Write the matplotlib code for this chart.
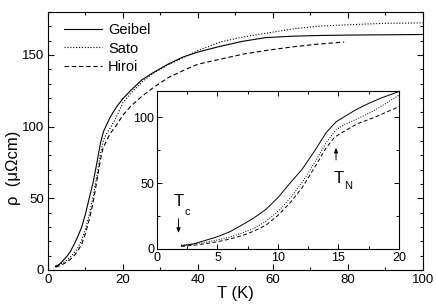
import matplotlib
matplotlib.use("Agg")
import matplotlib.pyplot as plt
from matplotlib.ticker import MultipleLocator

plt.rcParams.update({
    "font.family": ["Liberation Sans", "DejaVu Sans"],
    "font.size": 9.5,
    "xtick.direction": "in",
    "ytick.direction": "in",
})

# resistivity data (T in K, rho in micro-Ohm cm)
t_geibel = [2, 3, 4, 5, 6, 7, 8, 9, 10, 11, 12, 13, 14, 14.8, 15.5, 16.5, 17.5, 18.5,
            20, 22, 25, 28, 32, 36, 40, 46, 52, 58, 65, 72, 80, 90, 100]
rho_geibel = [2.3, 3.8, 6.5, 9.3, 13, 18, 23.5, 30, 39, 50, 60.5, 74, 88.5, 96.5, 100.5,
              106, 110.5, 114.5, 119.5, 125, 132.5, 137.5, 143.5, 148.5, 152, 156, 159.5,
              162, 163, 163.5, 163.8, 164, 164.2]

t_sato = [2, 3, 4, 5, 6, 7, 8, 9, 10, 11, 12, 13, 14, 14.8, 15.5, 16.6, 18, 19,
          20, 22, 25, 28, 32, 36, 40, 46, 52, 58, 65, 72, 80, 90, 100]
rho_sato = [3, 3.8, 5, 6.8, 9, 12, 15.5, 21, 28.5, 38.5, 50.5, 65, 81, 90.5, 94.5,
            99, 105.3, 111, 116.7, 123, 131, 137, 143, 148, 153, 159, 162.5, 165,
            168, 170, 171, 172, 172.3]

t_hiroi = [2, 3, 4, 5, 6, 7, 8, 9, 10, 11, 12, 13, 14, 14.7, 15.5, 16.6, 18, 19,
           20, 22, 25, 28, 32, 36, 40, 46, 52, 58, 65, 72, 79]
rho_hiroi = [2, 2.8, 4, 5.5, 7.5, 10, 13.5, 18, 25.5, 35, 46.5, 61.5, 77, 85, 89.5,
             95.2, 100, 104, 108, 114, 121, 127, 134, 139, 143.5, 147, 150.5, 153,
             155.5, 157.5, 159]

series = [
    ("Geibel", t_geibel, rho_geibel, "-"),
    ("Sato", t_sato, rho_sato, (0, (1, 1.6))),
    ("Hiroi", t_hiroi, rho_hiroi, (0, (4, 2.5))),
]

fig = plt.figure(figsize=(4.36, 3.04), dpi=100)
ax = fig.add_axes([0.110, 0.112, 0.860, 0.849])
ins = fig.add_axes([0.360, 0.181, 0.555, 0.520])

for name, t, r, ls in series:
    ax.plot(t, r, color="black", lw=0.8, ls=ls, label=name)
    ins.plot(t, r, color="black", lw=0.7, ls=ls)

ax.set_xlim(0, 100)
ax.set_ylim(0, 180)
ax.xaxis.set_major_locator(MultipleLocator(20))
ax.xaxis.set_minor_locator(MultipleLocator(10))
ax.yaxis.set_major_locator(MultipleLocator(50))
ax.yaxis.set_minor_locator(MultipleLocator(10))
ax.tick_params(which="both", top=True, right=True, width=0.8)
ax.tick_params(which="major", length=4, pad=3)
ax.tick_params(which="minor", length=2.5)
ax.set_xlabel("T (K)", fontsize=12, labelpad=0)
ax.set_ylabel("ρ  (μΩcm)", fontsize=12, va="center")
ax.yaxis.set_label_coords(-0.093, 0.395)

ax.legend(loc="upper left", bbox_to_anchor=(0.02, 0.99), frameon=False,
          fontsize=10.5, handlelength=2.6, handletextpad=0.4,
          labelspacing=0.3, borderaxespad=0.2)

ins.set_xlim(0, 20)
ins.set_ylim(0, 120)
ins.xaxis.set_major_locator(MultipleLocator(5))
ins.xaxis.set_minor_locator(MultipleLocator(2.5))
ins.yaxis.set_major_locator(MultipleLocator(50))
ins.yaxis.set_minor_locator(MultipleLocator(25))
ins.tick_params(which="both", top=True, right=True, width=0.7)
ins.tick_params(which="major", length=3.5, pad=2, labelsize=9)
ins.tick_params(which="minor", length=2)

# transition markers
arrow = dict(arrowstyle="-|>,head_length=0.3,head_width=0.12", color="black", lw=0.7)
ins.annotate("", xy=(1.78, 10), xytext=(1.78, 25), arrowprops=arrow)
ins.text(1.4, 30, "T", fontsize=12, ha="left", va="bottom")
ins.text(2.3, 24.5, "c", fontsize=8, ha="left", va="bottom")
ins.annotate("", xy=(14.8, 79), xytext=(14.8, 65.5), arrowprops=arrow)
ins.text(14.6, 48, "T", fontsize=12, ha="left", va="bottom")
ins.text(15.5, 44, "N", fontsize=8, ha="left", va="bottom")

fig.savefig("out.png", dpi=100)
